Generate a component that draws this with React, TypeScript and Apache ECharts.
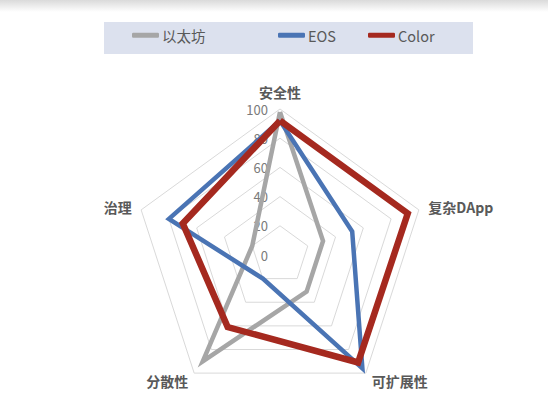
import { useEffect, useRef } from "react";
import * as echarts from "echarts";

// 雷达图：以太坊 / EOS / Color 对比
const indicators = ["安全性", "治理", "分散性", "可扩展性", "复杂DApp"];
const seriesNames = ["以太坊", "EOS", "Color"];
const ethValues = [98, 20, 90, 31, 31];
const eosValues = [92, 80, 20, 96, 52];
const colorValues = [92, 70, 61, 91, 92];
const axisMax = 100;

const colors = ["#a6a6a6", "#4a74b4", "#a5291f"];
const widths = [4.5, 4.5, 6.5];
const legendLeft = [132, 278, 368];
const FONT = "'Noto Sans CJK SC', 'Noto Sans', sans-serif";

export default function App() {
  const ref = useRef<HTMLDivElement>(null);

  useEffect(() => {
    if (!ref.current) return;
    const chart = echarts.init(ref.current, undefined, { renderer: "svg" });
    const values = [ethValues, eosValues, colorValues];

    chart.setOption({
      animation: false,
      backgroundColor: "transparent",
      graphic: [
        {
          type: "rect",
          shape: { x: 104, y: 22, width: 369, height: 32 },
          style: { fill: "#dce1ee" },
          z: -1,
        },
      ],
      legend: seriesNames.map((name, i) => ({
        data: [name],
        left: legendLeft[i],
        top: 28,
        padding: 0,
        icon: "roundRect",
        itemWidth: 27,
        itemHeight: 5,
        itemGap: 4,
        textStyle: { color: "#595959", fontSize: 14.5, fontFamily: FONT, padding: [0, 0, 0, -2] },
        selectedMode: false,
      })),
      radar: {
        center: [280, 255],
        radius: 146,
        shape: "polygon",
        splitNumber: 5,
        startAngle: 90,
        indicator: indicators.map((name, i) => ({
          name,
          min: 0,
          max: axisMax,
          ...(i === 0
            ? {
                axisLabel: {
                  show: true,
                  color: "#7a7a7a",
                  fontSize: 13,
                  fontFamily: FONT,
                  margin: 12,
                },
              }
            : {}),
        })),
        axisName: {
          color: "#595959",
          fontSize: 14,
          fontWeight: "bold",
          fontFamily: FONT,
        },
        nameGap: 10,
        axisLine: { show: false },
        axisTick: { show: false },
        axisLabel: { show: false },
        splitLine: { lineStyle: { color: "#d9d9d9", width: 1 } },
        splitArea: { show: false },
      },
      series: [
        {
          type: "radar",
          symbol: "none",
          data: seriesNames.map((name, i) => ({
            name,
            value: values[i],
            itemStyle: { color: colors[i] },
            lineStyle: { color: colors[i], width: widths[i], join: "miter" },
          })),
        },
      ],
    });

    return () => chart.dispose();
  }, []);

  return (
    <div style={{ position: "fixed", left: 0, top: 0, width: 548, height: 405, background: "#fff" }}>
      <div
        style={{
          position: "absolute",
          left: 0,
          top: 0,
          width: 548,
          height: 12,
          background: "linear-gradient(#dadada, #ffffff)",
        }}
      />
      <div ref={ref} style={{ position: "absolute", left: 0, top: 0, width: 548, height: 405 }} />
    </div>
  );
}
